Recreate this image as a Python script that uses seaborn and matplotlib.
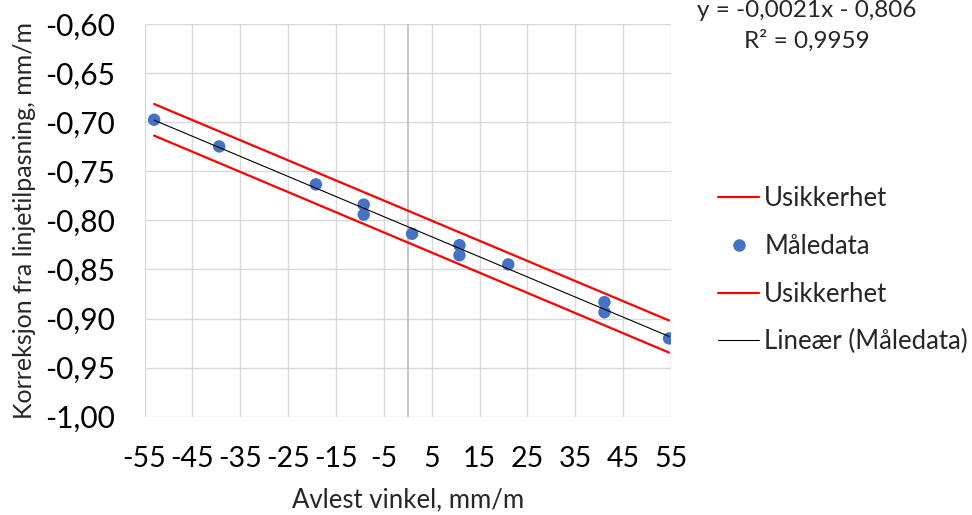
import numpy as np
import pandas as pd
import matplotlib
matplotlib.use("Agg")
import matplotlib.pyplot as plt
import matplotlib.ticker as mticker
from matplotlib.lines import Line2D
import seaborn as sns

# ---- data ----
vinkel = [-53.0, -39.4, -19.2, -9.2, -9.2, 0.9, 10.8, 10.8, 21.0, 41.1, 41.1, 54.6]
korreksjon = [-0.6975, -0.7247, -0.7634, -0.7840, -0.7942, -0.8137,
              -0.8253, -0.8356, -0.8449, -0.8833, -0.8936, -0.9203]
usikker_x = [-53.0, 54.6]
usikker_ovre = [-0.6815, -0.9020]
usikker_nedre = [-0.7137, -0.9347]
x_ticks = [-55, -45, -35, -25, -15, -5, 5, 15, 25, 35, 45, 55]
y_ticks = [-1.00, -0.95, -0.90, -0.85, -0.80, -0.75, -0.70, -0.65, -0.60]
eq_text = "y = -0,0021x - 0,806"
r2_text = "R\u00b2 = 0,9959"

sns.set_theme(style="white")
plt.rcParams['font.family'] = ['Lato', 'DejaVu Sans']

BLUE = "#4472C4"
RED = "#FF0000"

fig = plt.figure(figsize=(9.72, 5.15), dpi=100)
ax = fig.add_axes([0.1487, 0.1909, 0.6903 - 0.1487, 0.9534 - 0.1909])

df = pd.DataFrame({"x": vinkel, "y": korreksjon})
du = pd.DataFrame({"x": usikker_x, "y": usikker_ovre})
dl = pd.DataFrame({"x": usikker_x, "y": usikker_nedre})

sns.lineplot(data=du, x="x", y="y", color=RED, lw=1.6, ax=ax, zorder=3)
sns.lineplot(data=dl, x="x", y="y", color=RED, lw=1.6, ax=ax, zorder=3)
sns.regplot(data=df, x="x", y="y", scatter=False, ci=None, truncate=True,
            line_kws=dict(color="black", lw=0.8, zorder=5), ax=ax)
sns.scatterplot(data=df, x="x", y="y", color=BLUE, s=80, edgecolor="none",
                ax=ax, zorder=4)

ax.set_xlim(-55, 55)
ax.set_ylim(-1.0, -0.6)
ax.set_xticks(x_ticks)
ax.set_yticks(y_ticks)
ax.xaxis.set_major_formatter(mticker.FuncFormatter(lambda v, p: f"{v:.0f}"))
ax.yaxis.set_major_formatter(mticker.FuncFormatter(lambda v, p: f"{v:.2f}".replace(".", ",")))
ax.grid(True, color="#D9D9D9", lw=1.0)
ax.set_axisbelow(True)
for s in ax.spines.values():
    s.set_visible(False)
ax.axvline(0, color="#BFBFBF", lw=1.3, zorder=1)
ax.tick_params(axis="both", length=0, colors="black")
ax.tick_params(axis="x", pad=21, labelsize=20.5)
ax.tick_params(axis="y", pad=21, labelsize=21.5)
ax.set_xlabel("Avlest vinkel, mm/m", fontsize=18.5, labelpad=11)
ax.set_ylabel("Korreksjon fra linjetilpasning, mm/m", fontsize=18, labelpad=7)

fig.text(0.830, 0.980, eq_text, fontsize=17.5, ha="center", va="center")
fig.text(0.830, 0.920, r2_text, fontsize=17.5, ha="center", va="center")

handles = [
    Line2D([], [], color=RED, lw=1.6),
    Line2D([], [], color=BLUE, marker="o", ls="none", markersize=8),
    Line2D([], [], color=RED, lw=1.6),
    Line2D([], [], color="black", lw=0.8),
]
labels = ["Usikkerhet", "Måledata", "Usikkerhet", "Lineær (Måledata)"]
fig.legend(handles, labels, loc="upper left", bbox_to_anchor=(0.7387, 0.638),
           frameon=False, fontsize=18.5, handlelength=1.6, handletextpad=0.2,
           labelspacing=0.88, borderpad=0, borderaxespad=0)

fig.savefig("out.png", dpi=100)
